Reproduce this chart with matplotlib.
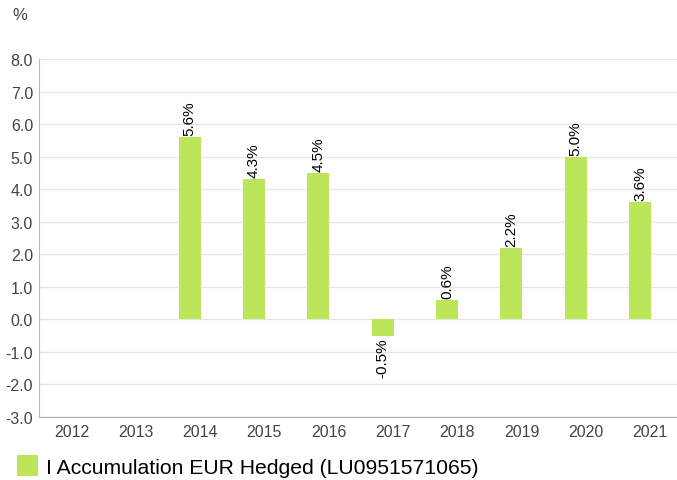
import numpy as np
import matplotlib.pyplot as plt
from matplotlib.patches import Rectangle

plt.rcParams["font.family"] = ["Liberation Sans", "DejaVu Sans"]

# Data
years = ["2012", "2013", "2014", "2015", "2016", "2017", "2018", "2019", "2020", "2021"]
returns = [np.nan, np.nan, 5.6, 4.3, 4.5, -0.5, 0.6, 2.2, 5.0, 3.6]
series_name = "I Accumulation EUR Hedged (LU0951571065)"

bar_color = "#bde55a"
text_color = "#444444"

fig = plt.figure(figsize=(6.77, 4.81), dpi=100)
# axes runs a little past the right edge, as in the original
ax = fig.add_axes([0.058, 0.131, 0.95, 0.744])

x = np.arange(len(years))
vals = np.array(returns, dtype=float)
mask = ~np.isnan(vals)
xb = x[mask] - 0.16  # bars sit left of the tick centre
ax.bar(xb, vals[mask], width=0.34, color=bar_color, zorder=3)

# Value labels, rotated
for xi, v in zip(xb, vals[mask]):
    if v >= 0:
        ax.annotate(f"{v:.1f}%", (xi, v), xytext=(0, 1.5), textcoords="offset points",
                    rotation=90, ha="center", va="bottom", fontsize=11, color="black")
    else:
        ax.annotate(f"{v:.1f}%", (xi, v), xytext=(0, -1.5), textcoords="offset points",
                    rotation=90, ha="center", va="top", fontsize=11, color="black")

ax.set_ylim(-3, 8)
ax.set_yticks(np.arange(-3, 9, 1))
ax.set_yticklabels([f"{t:.1f}" for t in np.arange(-3, 9, 1)])
ax.set_xlim(-0.5, len(years) - 0.5)
ax.set_xticks(x)
ax.set_xticklabels(years)

ax.grid(axis="y", color="#e6e6e6", linewidth=1, zorder=0)
for side in ["top", "right"]:
    ax.spines[side].set_visible(False)
ax.spines["left"].set_color("#bbbbbb")
ax.spines["bottom"].set_color("#aaaaaa")
ax.tick_params(axis="both", length=0, labelsize=11.5, colors=text_color)
ax.tick_params(axis="x", pad=5)
ax.tick_params(axis="y", pad=4.5)

# "%" unit label
fig.text(0.019, 0.967, "%", fontsize=12, color=text_color, ha="left", va="center")

# Legend
fig.patches.append(Rectangle((0.025, 0.008), 0.031, 0.044, transform=fig.transFigure,
                             facecolor=bar_color, edgecolor="none"))
fig.text(0.068, 0.027, series_name, fontsize=15.2, color="black", ha="left", va="center")

plt.savefig("out.png", dpi=100)
